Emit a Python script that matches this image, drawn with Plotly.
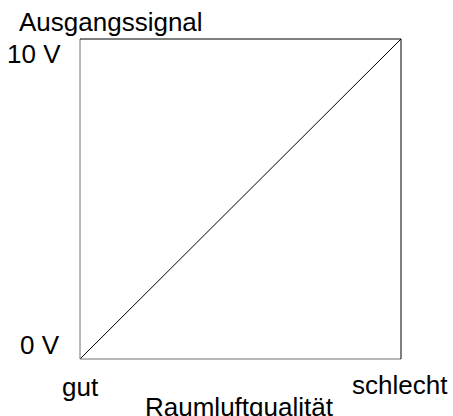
import plotly.graph_objects as go

# Output signal versus room air quality (linear characteristic)
quality = [0, 1]            # 0 = gut, 1 = schlecht
signal_v = [0, 10]          # output voltage in V
x_labels = ["gut", "schlecht"]
y_labels = ["0 V", "10 V"]
x_title = "Raumluftqualität"
y_title = "Ausgangssignal"

FONT = dict(family="Liberation Sans, Arial, sans-serif", size=26, color="black")

fig = go.Figure()
fig.add_trace(go.Scatter(
    x=quality, y=signal_v, mode="lines",
    line=dict(color="black", width=1),
    hoverinfo="skip", showlegend=False,
))

axis_common = dict(showgrid=False, zeroline=False, showticklabels=False,
                   ticks="", showline=False, fixedrange=True)
fig.update_layout(
    width=453, height=416,
    margin=dict(l=80, r=52, t=39, b=57),
    paper_bgcolor="white", plot_bgcolor="white",
    xaxis=dict(range=[quality[0], quality[-1]], **axis_common),
    yaxis=dict(range=[signal_v[0], signal_v[-1]], **axis_common),
    font=FONT,
)

# frame: left/bottom grey, top/right black
frame = [
    (0, 0, 0, 1, "#707070"),
    (0, 1, 0, 0, "#707070"),
    (0, 1, 1, 1, "black"),
    (1, 1, 0, 1, "black"),
]
for x0, x1, y0, y1, c in frame:
    fig.add_shape(type="line", xref="paper", yref="paper",
                  x0=x0, x1=x1, y0=y0, y1=y1, line=dict(color=c, width=1))

ann = []
# y-axis end labels
ann.append(dict(x=quality[0], y=signal_v[-1], text=y_labels[1], xanchor="right",
                yanchor="middle", xshift=-17, yshift=-15))
ann.append(dict(x=quality[0], y=signal_v[0], text=y_labels[0], xanchor="right",
                yanchor="middle", xshift=-18, yshift=14))
# x-axis end labels
ann.append(dict(x=quality[0], y=signal_v[0], text=x_labels[0], xanchor="center",
                yanchor="middle", xshift=0, yshift=-28))
ann.append(dict(x=quality[-1], y=signal_v[0], text=x_labels[1], xanchor="center",
                yanchor="middle", xshift=-1, yshift=-26))
# axis titles
ann.append(dict(x=0.5, y=signal_v[0], xref="paper", text=x_title, xanchor="center",
                yanchor="middle", xshift=-1, yshift=-48))
ann.append(dict(x=quality[0], y=signal_v[-1], text=y_title, xanchor="left",
                yanchor="middle", xshift=-63, yshift=17))

for a in ann:
    a.setdefault("xref", "x")
    a.setdefault("yref", "y")
    fig.add_annotation(showarrow=False, font=FONT, **a)

fig.write_html("out.html")
